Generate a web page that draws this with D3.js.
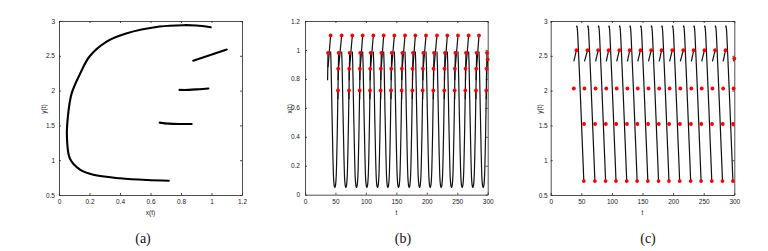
<!DOCTYPE html>
<html>
<head>
<meta charset="utf-8">
<script src="https://cdn.jsdelivr.net/npm/d3@7"></script>
<style>
  body { margin: 0; background: #fff; }
  svg { display: block; }
  .tick text { font-family: "Liberation Sans Narrow", "Liberation Sans", Arial, sans-serif; font-size: 6.5px; fill: #222; }
  .axis path, .axis line { stroke: #222; stroke-width: 0.8; }
  .lbl { font-family: "Liberation Sans Narrow", "Liberation Sans", Arial, sans-serif; font-size: 6.5px; fill: #222; }
  .cap { font-family: "Liberation Serif", "Times New Roman", serif; font-size: 14px; fill: #111; }
</style>
</head>
<body>
<svg id="fig" width="768" height="251"></svg>
<script>
// panel (a) phase portrait, main arc
const phaseX = [0.995, 0.9, 0.815, 0.66, 0.44, 0.31, 0.20, 0.14, 0.083, 0.058, 0.052, 0.072, 0.14, 0.225, 0.40, 0.575, 0.72];
const phaseY = [2.91, 2.935, 2.94, 2.92, 2.82, 2.70, 2.49, 2.25, 1.96, 1.62, 1.34, 1.02, 0.86, 0.79, 0.74, 0.715, 0.705];
// short pieces between impulses
const branchX = [[0.66, 0.72, 0.8, 0.87], [0.79, 0.85, 0.92, 0.98], [0.88, 1.1]];
const branchY = [[1.54, 1.525, 1.52, 1.52], [2.01, 2.01, 2.02, 2.03], [2.43, 2.59]];

// panels (b),(c): time of each big impulse (top red dot in b)
const impulseTimes = [42.1, 60.2, 77.7, 94.7, 112.2, 129.2, 146.7, 164.2, 181.2, 198.7, 216.7, 233.7, 251.2, 268.7, 285.7];
const firstCycle = 24.7;   // partial cycle before t = 42
const endTime = 300, endX = 0.935, endY = 2.46;

// one cycle after an impulse (tau = time since impulse)
const arcTauX = [0, 0.7, 1.4, 2.2, 3.0, 3.6, 4.2, 4.7, 5.4, 6.1, 6.9, 7.7, 8.4, 9.1, 9.7, 10.2, 10.8, 11.4, 12.0];
const arcX    = [0.99, 0.90, 0.75, 0.57, 0.41, 0.29, 0.19, 0.125, 0.08, 0.058, 0.05, 0.058, 0.08, 0.125, 0.20, 0.29, 0.41, 0.56, 0.72];
const arcTauY = [0, 0.7, 1.5, 3, 5, 7, 9, 10.5, 12.0];
const arcY    = [2.91, 2.93, 2.88, 2.62, 2.22, 1.80, 1.36, 1.04, 0.70];

// the three small pieces that follow
const jumpStart = [12.0, 12.4, 13.1];
const jumpEnd   = [12.4, 13.1, null];
const jumpX0 = [0.66, 0.79, 0.88], jumpX1 = [0.87, 0.98, 1.10];
const jumpY0 = [1.54, 2.01, 2.42], jumpY1 = [1.52, 2.03, 2.58];

const ticksAX = [0, 0.2, 0.4, 0.6, 0.8, 1, 1.2];
const ticksAY = [0.5, 1, 1.5, 2, 2.5, 3];
const ticksT  = [0, 50, 100, 150, 200, 250, 300];
const ticksBY = [0, 0.2, 0.4, 0.6, 0.8, 1, 1.2];

const svg = d3.select('#fig');
const fmt = d3.format('~g');

function panel(p) {
  const x = d3.scaleLinear().domain(p.xd).range([p.l, p.r]);
  const y = d3.scaleLinear().domain(p.yd).range([p.b, p.t]);
  const g = svg.append('g');

  g.append('g').attr('class', 'axis').attr('transform', `translate(0,${p.b})`)
    .call(d3.axisBottom(x).tickValues(p.xt).tickFormat(fmt).tickSizeInner(-2).tickSizeOuter(0).tickPadding(4.5));
  g.append('g').attr('class', 'axis').attr('transform', `translate(${p.l},0)`)
    .call(d3.axisLeft(y).tickValues(p.yt).tickFormat(fmt).tickSizeInner(-2).tickSizeOuter(0).tickPadding(p.yp));
  g.append('g').attr('class', 'axis').attr('transform', `translate(0,${p.t})`)
    .call(d3.axisTop(x).tickValues(p.xt).tickFormat('').tickSizeInner(-2).tickSizeOuter(0));
  g.append('g').attr('class', 'axis').attr('transform', `translate(${p.r},0)`)
    .call(d3.axisRight(y).tickValues(p.yt).tickFormat('').tickSizeInner(-2).tickSizeOuter(0));

  g.append('text').attr('class', 'lbl').attr('x', (p.l + p.r) / 2).attr('y', 215)
    .attr('text-anchor', 'middle').text(p.xl);
  g.append('text').attr('class', 'lbl')
    .attr('transform', `translate(${p.ylx},${(p.t + p.b) / 2 + 1}) rotate(-90)`)
    .attr('text-anchor', 'middle').attr('dy', '0.35em').text(p.yl);
  g.append('text').attr('class', 'cap').attr('x', p.cx).attr('y', 243)
    .attr('text-anchor', 'middle').text(p.cap);
  return { g, x, y };
}

const smooth = d3.line().curve(d3.curveCatmullRom.alpha(0.5));

// ---- (a)
const A = panel({ l: 59, r: 242, t: 21, b: 195, xd: [0, 1.2], yd: [0.5, 3], xt: ticksAX, yt: ticksAY,
  yp: 4, xl: 'x(t)', yl: 'y(t)', ylx: 43.5, cap: '(a)', cx: 143 });
const aPaths = [d3.zip(phaseX, phaseY)].concat(branchX.map((bx, i) => d3.zip(bx, branchY[i])));
A.g.selectAll('path.traj').data(aPaths).enter().append('path')
  .attr('class', 'traj')
  .attr('d', d => smooth(d.map(([u, v]) => [A.x(u), A.y(v)])))
  .attr('fill', 'none').attr('stroke', '#000').attr('stroke-width', 2.1)
  .attr('stroke-linecap', 'round').attr('stroke-linejoin', 'round');

// ---- build time series pieces
function series(arcTau, arcV, v0, v1, vEnd) {
  const pieces = [], dots = [];
  const cycles = [firstCycle].concat(impulseTimes);
  cycles.forEach((T, i) => {
    const next = cycles[i + 1];
    if (i > 0) {
      pieces.push(arcTau.map((u, j) => [T + u, arcV[j]]));
      dots.push([T + arcTau[arcTau.length - 1], arcV[arcV.length - 1]]);
    }
    for (let k = 0; k < 3; k++) {
      if (i === 0 && k === 0) continue;
      const t0 = T + jumpStart[k];
      let t1, e;
      if (k < 2) { t1 = T + jumpEnd[k]; e = v1[k]; }
      else if (next !== undefined) { t1 = next; e = v1[k]; }
      else { t1 = endTime; e = vEnd; }
      pieces.push([[t0, v0[k]], [t1, e]]);
      dots.push([t1, e]);
    }
  });
  return { pieces, dots };
}

function drawSeries(P, s) {
  P.g.selectAll('path.ts').data(s.pieces).enter().append('path')
    .attr('class', 'ts')
    .attr('d', d => smooth(d.map(([u, v]) => [P.x(u), P.y(v)])))
    .attr('fill', 'none').attr('stroke', '#111').attr('stroke-width', 1.2);
  P.g.selectAll('circle').data(s.dots).enter().append('circle')
    .attr('cx', d => P.x(d[0])).attr('cy', d => P.y(d[1])).attr('r', 1.9)
    .attr('fill', '#f00');
}

// ---- (b)
const B = panel({ l: 305, r: 487.7, t: 21, b: 194.7, xd: [0, 300], yd: [0, 1.2], xt: ticksT, yt: ticksBY,
  yp: 5, xl: 't', yl: 'x(t)', ylx: 289.5, cap: '(b)', cx: 403 });
drawSeries(B, series(arcTauX, arcX, jumpX0, jumpX1, endX));

// ---- (c)
const C = panel({ l: 550.7, r: 734.3, t: 21, b: 195, xd: [0, 300], yd: [0.5, 3], xt: ticksT, yt: ticksAY,
  yp: 3, xl: 't', yl: 'y(t)', ylx: 540, cap: '(c)', cx: 648 });
drawSeries(C, series(arcTauY, arcY, jumpY0, jumpY1, endY));
</script>
</body>
</html>
